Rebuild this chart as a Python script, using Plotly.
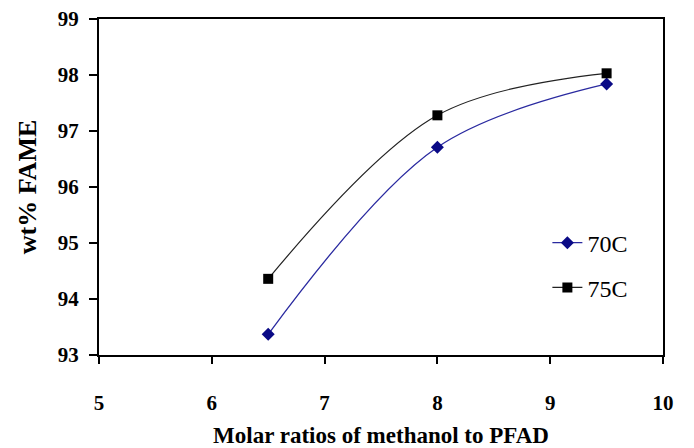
import plotly.graph_objects as go

ratios = [6.5, 8, 9.5]
fame_70 = [93.37, 96.71, 97.84]
fame_75 = [94.36, 97.28, 98.03]
x_ticks = [5, 6, 7, 8, 9, 10]
y_ticks = [93, 94, 95, 96, 97, 98, 99]

font_fam = "Liberation Serif, Times New Roman, serif"

fig = go.Figure()
fig.add_trace(go.Scatter(x=ratios, y=fame_70, name="70C", mode="lines+markers",
                         line=dict(color="#2a2aa0", width=1.3, shape="spline", smoothing=1.0),
                         marker=dict(symbol="diamond", size=10, color="#0a0a86"),
                         legend="legend"))
fig.add_trace(go.Scatter(x=ratios, y=fame_75, name="75C", mode="lines+markers",
                         line=dict(color="#222222", width=1.2, shape="spline", smoothing=1.0),
                         marker=dict(symbol="square", size=10, color="black"),
                         legend="legend2"))

leg_common = dict(xanchor="left", yanchor="middle", bgcolor="rgba(0,0,0,0)",
                  font=dict(size=24, family=font_fam, color="black"), itemwidth=30)

# page body has an 8px margin; figure sized to fill the 694x448 window
fig.update_layout(
    width=686, height=440,
    margin=dict(l=91, r=31, t=11, b=93),
    paper_bgcolor="white", plot_bgcolor="white",
    font=dict(family=font_fam, size=20, color="black"),
    showlegend=True,
    legend=dict(x=0.795, y=0.333, **leg_common),
    legend2=dict(x=0.795, y=0.2, **leg_common),
    xaxis=dict(range=[5, 10], tickvals=x_ticks, showgrid=False, zeroline=False,
               showline=True, linecolor="black", linewidth=2, mirror=True,
               ticks="outside", ticklen=7, tickwidth=2, tickcolor="black",
               tickfont=dict(size=21, family=font_fam, weight="bold"),
               ticklabelstandoff=21, automargin=False, ticklabeloverflow="allow",
               title=dict(text="<b>Molar ratios of methanol to PFAD</b>",
                          font=dict(size=23), standoff=15)),
    yaxis=dict(range=[93, 99], tickvals=y_ticks, showgrid=False, zeroline=False,
               showline=True, linecolor="black", linewidth=2, mirror=True,
               ticks="outside", ticklen=8, tickwidth=2, tickcolor="black",
               tickfont=dict(size=21, family=font_fam, weight="bold"),
               ticklabelstandoff=6, automargin=False, ticklabeloverflow="allow",
               title=dict(text="<b>wt% FAME</b>", font=dict(size=26), standoff=14)),
)

fig.write_html("out.html")
